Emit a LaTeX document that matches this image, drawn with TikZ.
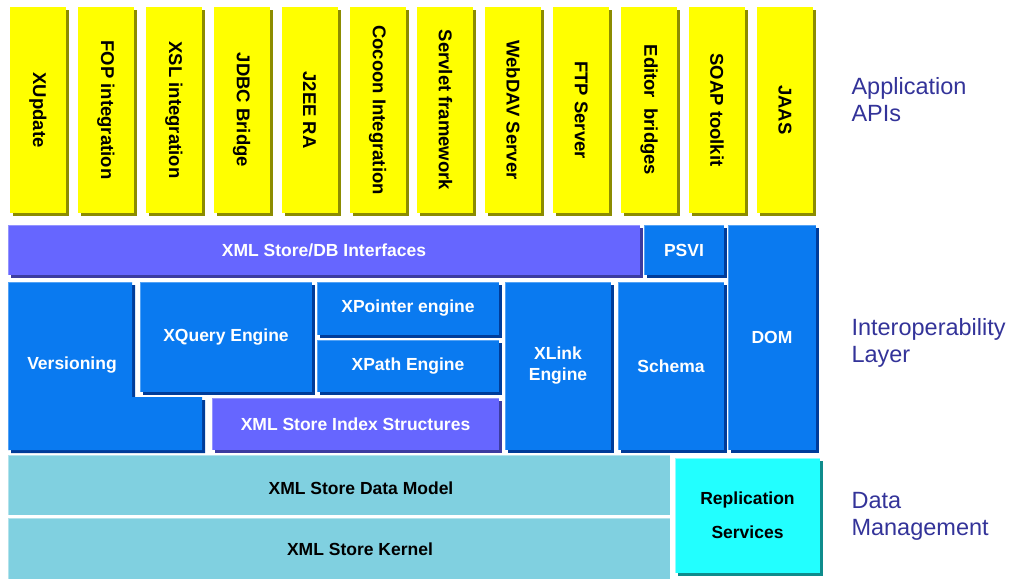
\documentclass[tikz,border=0pt]{standalone}
\usepackage{fontspec}
\usepackage{graphicx}
\setmainfont{Liberation Sans}
\usetikzlibrary{shadows}
\definecolor{apiyellow}{HTML}{FFFF00}
\definecolor{apishade}{HTML}{8C8C00}
\definecolor{ifblue}{HTML}{0A7AF0}
\definecolor{ifshade}{HTML}{003C99}
\definecolor{ifpurple}{HTML}{6666FF}
\definecolor{ppshade}{HTML}{3C3CA0}
\definecolor{dmblue}{HTML}{80D0E0}
\definecolor{dmcyan}{HTML}{22FFFF}
\definecolor{cyshade}{HTML}{0F8C8C}
\definecolor{layertext}{HTML}{333399}
\begin{document}
\begin{tikzpicture}[x=1pt,y=-1pt,
    box/.style={anchor=north west, inner sep=0pt, outer sep=0pt, align=center,
      font=\bfseries\fontsize{17.5}{21}\selectfont},
    hl/.style={path picture={\draw[line width=2pt,#1]
      (path picture bounding box.south west) -- (path picture bounding box.north west)
      -- (path picture bounding box.north east);}},
    api/.style={box, fill=apiyellow, minimum width=56pt, minimum height=206pt,
      font=\bfseries\fontsize{18.5}{21}\selectfont,
      drop shadow={shadow xshift=3pt, shadow yshift=-3pt, fill=apishade, opacity=1}},
    inter/.style={box, fill=ifblue, text=white, hl=ifblue!70!white,
      drop shadow={shadow xshift=3pt, shadow yshift=-3pt, fill=ifshade, opacity=1}},
    store/.style={inter, fill=ifpurple, hl=ifpurple!70!white,
      drop shadow={shadow xshift=3pt, shadow yshift=-3pt, fill=ppshade, opacity=1}},
    data/.style={box, fill=dmblue, hl=dmblue!60!white},
    layer/.style={anchor=west, align=left, text=layertext,
      font=\fontsize{23.5}{27}\selectfont}
  ]
  \useasboundingbox (0,0) rectangle (1013,579);

  % application APIs
  \foreach \lbl [count=\i from 0] in {XUpdate, FOP integration, XSL integration,
      JDBC Bridge, J2EE RA, Cocoon Integration, Servlet framework, WebDAV Server,
      FTP Server, Editor~ bridges, SOAP toolkit, JAAS}
    \node[api] (A\i) at ({10+67.9*\i},7) {\rotatebox{-90}{\lbl}};

  % interoperability layer
  \node[store, minimum width=632pt, minimum height=50pt] (DBI) at (8,225) {XML Store/DB Interfaces};
  \node[inter, minimum width=80pt, minimum height=50pt] (PSVI) at (644,225) {PSVI};
  \node[inter, minimum width=88pt, minimum height=225pt] (DOM) at (728,225) {DOM};
  \fill[ifshade] (11,285) -- (135,285) -- (135,400) -- (205,400) -- (205,453) -- (11,453) -- cycle;
  \fill[ifblue] (8,282) -- (132,282) -- (132,397) -- (202,397) -- (202,450) -- (8,450) -- cycle;
  \draw[line width=1pt, ifblue!70!white] (8.5,450) -- (8.5,282.5) -- (132,282.5);
  \node[text=white, font=\bfseries\fontsize{17.5}{21}\selectfont] (VER) at (72,365) {Versioning};
  \node[inter, minimum width=172pt, minimum height=110pt] (XQ) at (140,282) {XQuery Engine};
  \node[inter, minimum width=182pt, minimum height=53pt] (XPT) at (317,282) {XPointer engine};
  \node[inter, minimum width=182pt, minimum height=52pt] (XPA) at (317,340) {XPath Engine};
  \node[store, minimum width=287pt, minimum height=52pt] (IDX) at (212,398) {XML Store Index Structures};
  \node[inter, minimum width=106pt, minimum height=168pt] (XL) at (505,282) {XLink\\Engine};
  \node[inter, minimum width=106pt, minimum height=168pt] (SCH) at (618,282) {Schema};

  % data management
  \node[data, minimum width=662pt, minimum height=60pt] (DM) at (8,455) {};
  \node[data, minimum width=662pt, minimum height=61pt] (KER) at (8,518) {};
  \node[font=\bfseries\fontsize{17.5}{21}\selectfont] (DMT) at (361,488) {XML Store Data Model};
  \node[font=\bfseries\fontsize{17.5}{21}\selectfont] (KERT) at (360,549) {XML Store Kernel};
  \node[box, fill=dmcyan, hl=dmcyan!50!white, minimum width=145pt, minimum height=115pt,
    drop shadow={shadow xshift=3pt, shadow yshift=-3pt, fill=cyshade, opacity=1},
    font=\bfseries\fontsize{17.5}{34}\selectfont] (REP) at (675,458) {Replication\\Services};

  % layer names
  \node[layer] (L1) at (848,100) {Application\\APIs};
  \node[layer] (L2) at (848,343) {Interoperability\\Layer};
  \node[layer] (L3) at (848,516) {Data\\Management};
\end{tikzpicture}
\end{document}
